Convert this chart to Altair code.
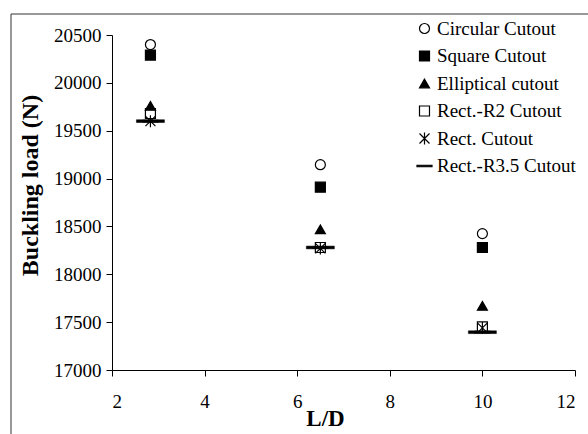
import altair as alt
import pandas as pd

# ---- data ----
ld = [2.83, 6.5, 10]
series_names = ["Circular Cutout", "Square Cutout", "Elliptical cutout",
                "Rect.-R2 Cutout", "Rect. Cutout", "Rect.-R3.5 Cutout"]
circular = [20400, 19145, 18425]
square = [20290, 18910, 18280]
elliptical = [19760, 18470, 17670]
rect_r2 = [19680, 18280, 17450]
rect = [19600, 18270, 17440]
rect_r35 = [19600, 18280, 17395]
y_ticks = [17000, 17500, 18000, 18500, 19000, 19500, 20000, 20500]
x_ticks = [2, 4, 6, 8, 10, 12]

values = [circular, square, elliptical, rect_r2, rect, rect_r35]
rows = []
for name, vals in zip(series_names, values):
    for x, v in zip(ld, vals):
        rows.append({"L/D": x, "Load": v, "Series": name})
df = pd.DataFrame(rows)

shapes = [
    "circle",
    "square",
    "triangle-up",
    "square",
    "M-1,-1L1,1M-1,1L1,-1M0,-1.2L0,1.2",
    "M-1.5,-0.15L1.5,-0.15L1.5,0.15L-1.5,0.15Z",
]
fills = ["white", "black", "black", "transparent", "transparent", "black"]
strokes = ["black"] * 6

FONT = "Liberation Serif"


def make_legend():
    return alt.Legend(title=None, orient="none", legendX=303, legendY=-16,
                      rowPadding=7.5, labelOffset=3, symbolSize=100,
                      symbolStrokeWidth=1.2, padding=0,
                      labelFont=FONT, labelFontSize=19,
                      labelColor="black", labelLimit=300)


x_enc = alt.X("L/D:Q",
              scale=alt.Scale(domain=[2, 12], nice=False, zero=False),
              axis=alt.Axis(values=x_ticks, title="L/D", grid=False,
                            titleX=213, titleY=48, titleAlign="center",
                            titleBaseline="middle", labelPadding=16))
y_enc = alt.Y("Load:Q",
              scale=alt.Scale(domain=[17000, 20500], nice=False, zero=False),
              axis=alt.Axis(values=y_ticks, format="d", title="Buckling load (N)",
                            grid=False, titleX=-82, titleY=150, titleAngle=270,
                            titleAlign="center", titleBaseline="middle",
                            titleFontSize=24, labelPadding=5))

points = alt.Chart(df).mark_point(
    strokeWidth=1.2, size=100, opacity=1
).encode(
    x=x_enc,
    y=y_enc,
    shape=alt.Shape("Series:N", sort=series_names,
                    scale=alt.Scale(domain=series_names, range=shapes),
                    legend=make_legend()),
    fill=alt.Fill("Series:N", sort=series_names,
                  scale=alt.Scale(domain=series_names, range=fills),
                  legend=make_legend()),
    stroke=alt.Stroke("Series:N", sort=series_names,
                      scale=alt.Scale(domain=series_names, range=strokes),
                      legend=make_legend()),
)

big_dash = alt.Chart(df).transform_filter(
    alt.datum.Series == "Rect.-R3.5 Cutout"
).mark_point(
    shape="M-1,-0.1L1,-0.1L1,0.1L-1,0.1Z", size=784, filled=True,
    fill="black", stroke="black", strokeWidth=0.5, opacity=1
).encode(x="L/D:Q", y="Load:Q")

frame = alt.Chart(pd.DataFrame({"k": [0]})).mark_rect(
    fill=None, stroke="#333333", strokeWidth=1, clip=False
).encode(
    x=alt.value(-101), x2=alt.value(700), y=alt.value(-21), y2=alt.value(600)
)

chart = alt.layer(frame, points, big_dash).properties(
    width=463, height=335,
    autosize=alt.AutoSizeParams(type="none"),
    padding={"left": 112, "top": 35, "right": 13, "bottom": 64},
    background="white",
).configure_view(stroke=None).configure_axis(
    domainColor="black", tickColor="black", tickSize=6, domainWidth=1,
    labelFont=FONT, labelFontSize=19, labelColor="black",
    titleFont=FONT, titleFontSize=23, titleFontWeight="bold", titleColor="black",
)

chart.save("out.html", embed_options={"renderer": "svg", "actions": False})
